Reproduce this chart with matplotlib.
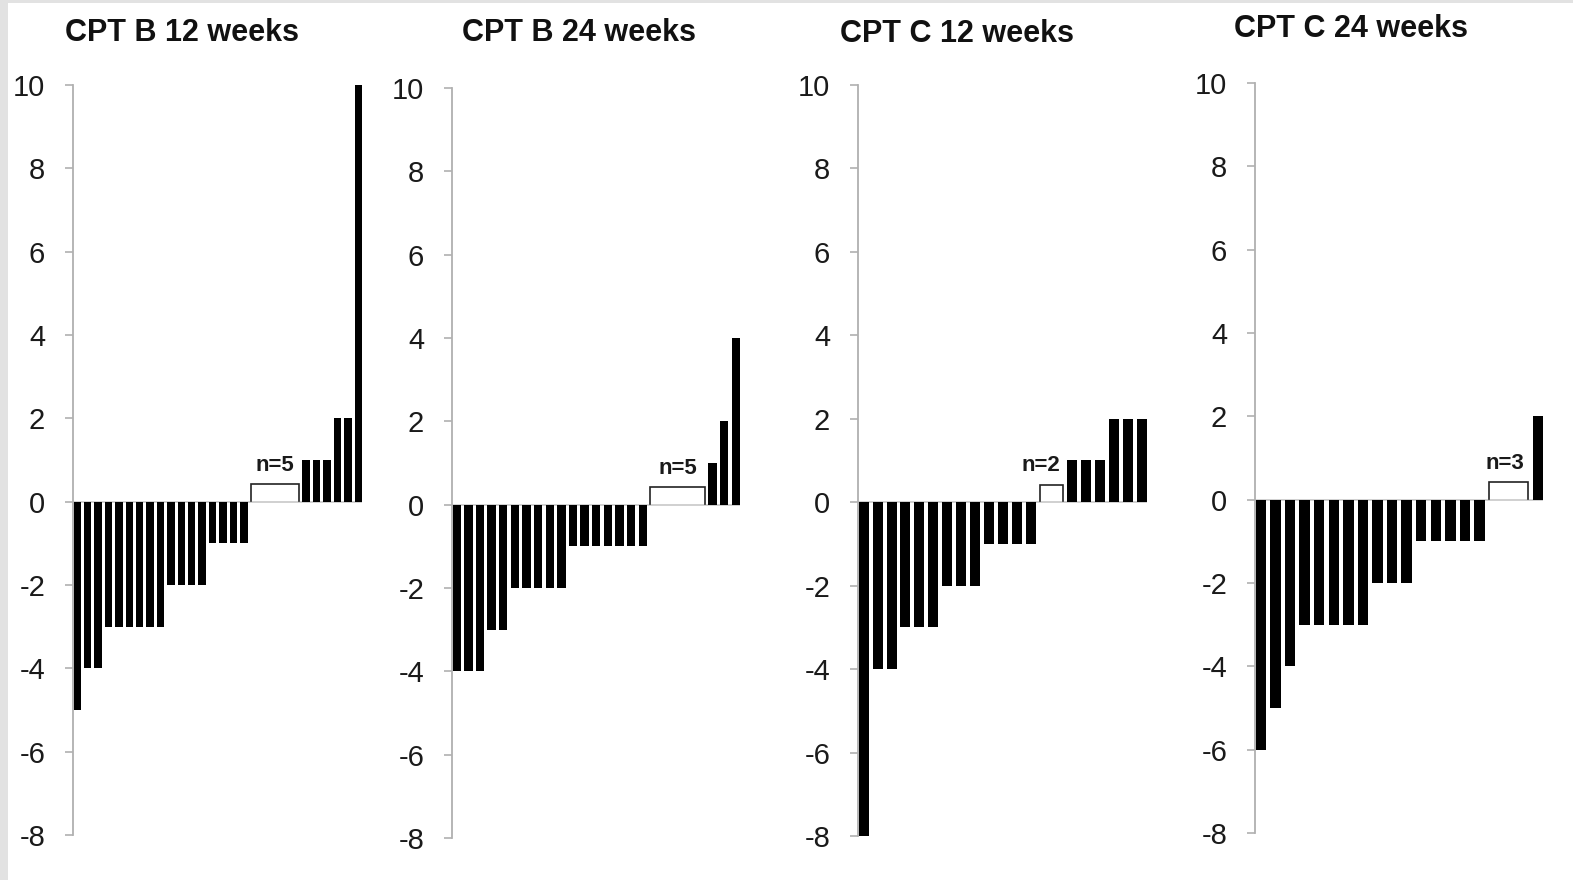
import matplotlib
matplotlib.use("Agg")
import matplotlib.pyplot as plt
from matplotlib.patches import Rectangle

plt.rcParams['font.family'] = ['Liberation Sans', 'DejaVu Sans']

titles = ["CPT B 12 weeks", "CPT B 24 weeks", "CPT C 12 weeks", "CPT C 24 weeks"]

cpt_b_12 = [-5, -4, -4, -3, -3, -3, -3, -3, -3, -2, -2, -2, -2, -1, -1, -1, -1,
            0, 0, 0, 0, 0, 1, 1, 1, 2, 2, 10]
cpt_b_24 = [-4, -4, -4, -3, -3, -2, -2, -2, -2, -2, -1, -1, -1, -1, -1, -1, -1,
            0, 0, 0, 0, 0, 1, 2, 4]
cpt_c_12 = [-8, -4, -4, -3, -3, -3, -2, -2, -2, -1, -1, -1, -1,
            0, 0, 1, 1, 1, 2, 2, 2]
cpt_c_24 = [-6, -5, -4, -3, -3, -3, -3, -3, -2, -2, -2, -1, -1, -1, -1, -1,
            0, 0, 0, 2]
series = [cpt_b_12, cpt_b_24, cpt_c_12, cpt_c_24]
yticks = [-8, -6, -4, -2, 0, 2, 4, 6, 8, 10]

W, H = 1573, 880
fig = plt.figure(figsize=(W / 100, H / 100), dpi=100)
fig.patch.set_facecolor('white')
# light grey frame strips
fig.patches.append(Rectangle((0, 0), 8 / W, 1, transform=fig.transFigure,
                             facecolor='#e2e2e2', edgecolor='none', zorder=0))
fig.patches.append(Rectangle((0, 1 - 3 / H), 1, 3 / H, transform=fig.transFigure,
                             facecolor='#e2e2e2', edgecolor='none', zorder=0))

# pixel boxes: (left, right, top(10), bottom(-8))
boxes = [(73, 362, 85, 835), (452, 740, 88, 838), (858, 1147, 85, 836), (1255, 1543, 83, 833)]
title_pos = [(182, 33), (579, 33), (957, 34), (1351, 29)]
label_dx = [0, 0, -8, -3]  # points

bw = 0.72
for vals, title, (l, r, t, b), (tx, ty), dx in zip(series, titles, boxes, title_pos, label_dx):
    ax = fig.add_axes([l / W, 1 - b / H, (r - l) / W, (b - t) / H])
    n = len(vals)
    xs = list(range(n))
    ax.bar(xs, vals, width=bw, color='black', edgecolor='none', zorder=3)
    ax.set_xlim(-bw / 2 - 0.05, n - 1 + bw / 2)
    ax.set_ylim(-8, 10)
    ax.axhline(0, color='#c8c8c8', lw=1.2, zorder=2)
    for s in ['top', 'right', 'bottom']:
        ax.spines[s].set_visible(False)
    ax.spines['left'].set_color('#b0b0b0')
    ax.spines['left'].set_linewidth(1.3)
    ax.set_xticks([])
    ax.set_yticks(yticks)
    ax.set_yticklabels([str(v) for v in yticks])
    ax.tick_params(axis='y', direction='out', length=6, width=1.2, color='#b0b0b0',
                   pad=14, labelsize=21, labelcolor='#1a1a1a')
    ax.patch.set_alpha(0)
    # bracket over zero-valued cases
    zeros = [i for i, v in enumerate(vals) if v == 0]
    x0 = zeros[0] - 0.35
    x1 = zeros[-1] + 0.35
    h = 0.42
    ax.plot([x0, x0, x1, x1], [0.02, h, h, 0.02], color='#222222', lw=1.2, zorder=4,
            solid_joinstyle='miter')
    ax.annotate(f"n={len(zeros)}", xy=((x0 + x1) / 2, h + 0.2), xytext=(dx, 0),
                textcoords='offset points', ha='center', va='bottom',
                fontsize=16, fontweight='bold', color='#1a1a1a', zorder=5)
    fig.text(tx / W, 1 - ty / H, title, ha='center', va='center', fontsize=22,
             fontweight='bold', color='#111111')

fig.savefig('out.png', dpi=100, facecolor='white')
